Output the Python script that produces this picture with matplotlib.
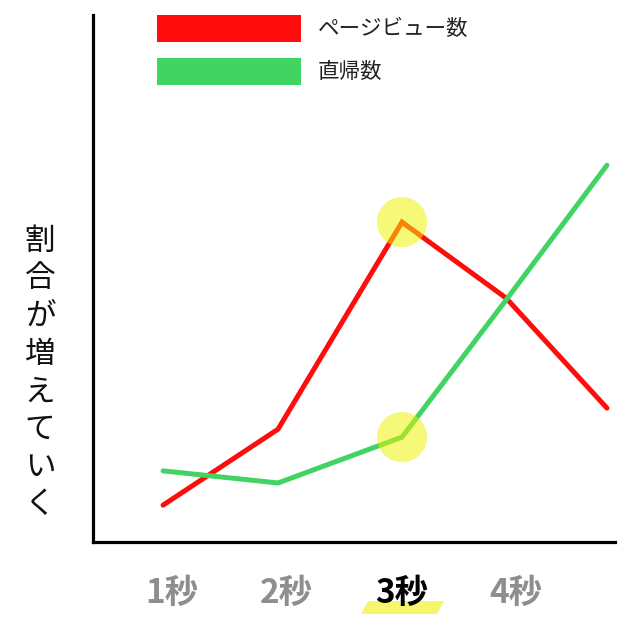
import matplotlib
matplotlib.use('Agg')
import matplotlib.pyplot as plt
from matplotlib.patches import Polygon, Rectangle
from matplotlib.transforms import blended_transform_factory

plt.rcParams['font.family'] = ['Noto Sans CJK JP', 'DejaVu Sans']

# ---- data ----
tick_pos = [1, 2, 3, 4]
tick_labels = ['1秒', '2秒', '3秒', '4秒']
x_points = [0.922, 1.924, 3.005, 3.912, 4.792]
pageviews = [7.0, 21.4, 60.7, 46.3, 25.4]
bounces = [13.5, 11.2, 19.9, 45.9, 71.5]
series_names = ['ページビュー数', '直帰数']
ylabel_text = '割合が増えていく'
highlight_idx = 2
highlight_tick = 2

RED = '#ff0c0c'
GREEN = '#42d462'
YELLOW = '#eef200'
GRAY = '#8e8e8e'

W = H = 630
fig = plt.figure(figsize=(6.3, 6.3), dpi=100)
fig.patch.set_facecolor('white')

def fx(px):
    return px / W

def fy(py):
    return 1 - py / H

ax = fig.add_axes([fx(93), fy(542), (615 - 93) / W, (542 - 15) / H])
ax.set_xlim(0.311, 4.862)
ax.set_ylim(0, 100)

for s in ['top', 'right']:
    ax.spines[s].set_visible(False)
for s in ['left', 'bottom']:
    ax.spines[s].set_linewidth(2.3)
    ax.spines[s].set_color('black')
ax.set_xticks([])
ax.set_yticks([])

ax.plot(x_points, pageviews, color=RED, lw=3.6, solid_capstyle='round',
        solid_joinstyle='miter', zorder=3)
ax.plot(x_points, bounces, color=GREEN, lw=3.6, solid_capstyle='round',
        solid_joinstyle='miter', zorder=3)

ax.scatter([x_points[highlight_idx]] * 2,
           [pageviews[highlight_idx], bounces[highlight_idx]],
           s=1300, color=YELLOW, alpha=0.53, edgecolors='none', zorder=4)

# tick labels
trans = blended_transform_factory(ax.transData, ax.transAxes)
for i, (t, lab) in enumerate(zip(tick_pos, tick_labels)):
    ax.text(t, (542 - 593) / 527, lab, transform=trans, ha='center', va='center',
            fontsize=24, fontweight='bold',
            color='black' if i == highlight_tick else GRAY, zorder=5)

# highlight parallelogram under the 3秒 label
poly = Polygon([(fx(368), fy(601)), (fx(444), fy(601)),
                (fx(437), fy(614)), (fx(361), fy(614))],
               closed=True, transform=fig.transFigure, facecolor='#f3f76c',
               edgecolor='none', zorder=-1)
fig.patches.append(poly)

# legend
legend_rows = [(series_names[0], RED, 15, 42, 29), (series_names[1], GREEN, 58, 85, 72)]
for name, col, y0, y1, yc in legend_rows:
    r = Rectangle((fx(157), fy(y1)), (301 - 157) / W, (y1 - y0) / H,
                  transform=fig.transFigure, facecolor=col, edgecolor='none')
    fig.patches.append(r)
    fig.text(fx(318), fy(yc), name, ha='left', va='center', fontsize=15.5, color='#222222')

# vertical y-label, one character per line
for i, ch in enumerate(ylabel_text):
    fig.text(fx(40), fy(241 + i * 37.7), ch, ha='center', va='center',
             fontsize=22, color='#111111')

fig.savefig('out.png', dpi=100, facecolor='white')
